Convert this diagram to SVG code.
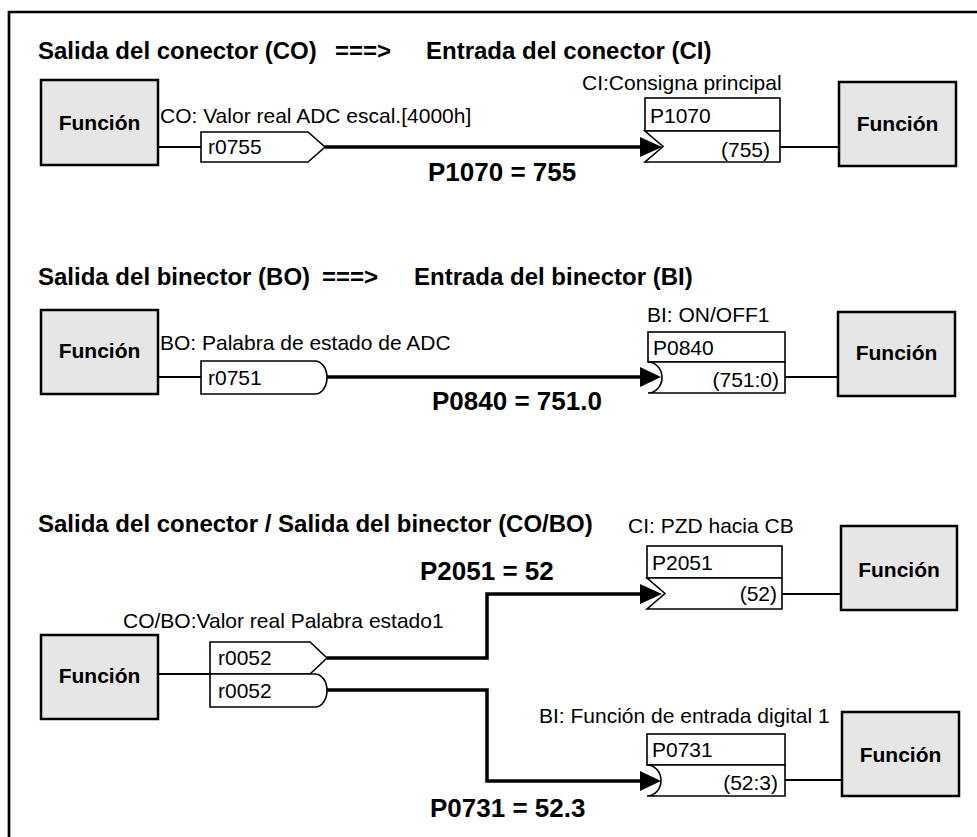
<svg xmlns="http://www.w3.org/2000/svg" width="977" height="837" viewBox="0 0 977 837">
<style>
text{font-family:"Liberation Sans",Arial,sans-serif;fill:#000}
.t{font-size:24px;font-weight:bold}
.eq{font-size:26px;font-weight:bold}
.l{font-size:21px}
.fn{font-size:21px;font-weight:bold;text-anchor:middle}
.r{text-anchor:end}
.fb{fill:#e6e6e6;stroke:#000;stroke-width:2.5}
.bx{fill:#fff;stroke:#000;stroke-width:1.6}
.thin{fill:none;stroke:#000;stroke-width:2}
.thick{fill:none;stroke:#000;stroke-width:3.5}
.ah{fill:#000}
</style>
<rect width="977" height="837" fill="#fff"/>
<path d="M9,837 V12 H977" fill="none" stroke="#000" stroke-width="2.7"/>

<g id="titles">
<text class="t" x="38" y="59">Salida del conector (CO)</text>
<text class="t" x="335" y="59">===&gt;</text>
<text class="t" x="426" y="59">Entrada del conector (CI)</text>
<text class="t" x="38" y="285">Salida del binector (BO)</text>
<text class="t" x="322" y="285">===&gt;</text>
<text class="t" x="414" y="285">Entrada del binector (BI)</text>
<text class="t" x="38" y="532">Salida del conector / Salida del binector (CO/BO)</text>
</g>

<g id="connectors">
<path class="thin" d="M158,147 H201"/>
<path class="thick" d="M325,147 H642"/>
<polygon class="ah" points="640,137 662,147 640,157"/>
<path class="thin" d="M780,147 H839"/>
<text class="eq" x="428" y="181">P1070 = 755</text>

<path class="thin" d="M158,377 H201"/>
<path class="thick" d="M327,377 H642"/>
<polygon class="ah" points="640,367 661,377 640,387"/>
<path class="thin" d="M785,377 H838"/>
<text class="eq" x="432" y="410">P0840 = 751.0</text>

<path class="thin" d="M158,674 H210"/>
<path class="thick" d="M327,658 H487 V594 H642"/>
<polygon class="ah" points="640,584 662,594 640,604"/>
<path class="thick" d="M327,690 H487 V781 H642"/>
<polygon class="ah" points="640,771 661,781 640,791"/>
<path class="thin" d="M782,594 H841"/>
<path class="thin" d="M785,780 H842"/>
<text class="eq" x="420" y="580">P2051 = 52</text>
<text class="eq" x="430" y="817">P0731 = 52.3</text>
</g>

<g id="f1"><rect class="fb" x="41" y="80" width="117" height="85"/><text class="fn" x="99.5" y="130">Función</text></g>
<g id="r0755">
<text class="l" x="160" y="123">CO: Valor real ADC escal.[4000h]</text>
<path class="bx" d="M201,132 H308 L325,147 L308,162 H201 Z"/>
<text class="l" x="208" y="154">r0755</text>
</g>
<g id="p1070">
<text class="l" x="582" y="90">CI:Consigna principal</text>
<rect class="bx" x="645" y="98" width="135" height="33"/>
<path class="bx" d="M645,131 H780 V162 H645 L663,146.5 Z"/>
<text class="l" x="650" y="123">P1070</text>
<text class="l r" x="770" y="157">(755)</text>
</g>
<g id="f2"><rect class="fb" x="839" y="82" width="117" height="84"/><text class="fn" x="897.5" y="131">Función</text></g>

<g id="f3"><rect class="fb" x="41" y="310" width="117" height="84"/><text class="fn" x="99.5" y="358">Función</text></g>
<g id="r0751">
<text class="l" x="160" y="350">BO: Palabra de estado de ADC</text>
<path class="bx" d="M201,361 H315 A12,16.5 0 0 1 315,394 H201 Z"/>
<text class="l" x="208" y="385">r0751</text>
</g>
<g id="p0840">
<text class="l" x="647" y="322">BI: ON/OFF1</text>
<rect class="bx" x="648" y="332" width="137" height="30"/>
<path class="bx" d="M648,362 H785 V393 H648 A14,15.5 0 0 0 648,362 Z"/>
<text class="l" x="653" y="355">P0840</text>
<text class="l r" x="779" y="387">(751:0)</text>
</g>
<g id="f4"><rect class="fb" x="838" y="312" width="117" height="84"/><text class="fn" x="896.5" y="360">Función</text></g>

<g id="f5"><rect class="fb" x="41" y="635" width="117" height="84"/><text class="fn" x="99.5" y="683">Función</text></g>
<g id="r0052">
<text class="l" x="123" y="628">CO/BO:Valor real Palabra estado1</text>
<path class="bx" d="M210,642 H310 L327,658 L310,674 H210 Z"/>
<text class="l" x="218" y="665">r0052</text>
<path class="bx" d="M210,674 H315 A12,16.5 0 0 1 315,707 H210 Z"/>
<text class="l" x="218" y="698">r0052</text>
</g>
<g id="p2051">
<text class="l" x="628" y="533">CI: PZD hacia CB</text>
<rect class="bx" x="647" y="546" width="135" height="32"/>
<path class="bx" d="M647,578 H782 V609 H647 L665,593.5 Z"/>
<text class="l" x="652" y="570">P2051</text>
<text class="l r" x="777" y="601">(52)</text>
</g>
<g id="f6"><rect class="fb" x="841" y="526" width="116" height="84"/><text class="fn" x="899" y="577">Función</text></g>
<g id="p0731">
<text class="l" x="539" y="723">BI: Función de entrada digital 1</text>
<rect class="bx" x="647" y="734" width="138" height="31"/>
<path class="bx" d="M647,765 H785 V796 H647 A14,15.5 0 0 0 647,765 Z"/>
<text class="l" x="652" y="757">P0731</text>
<text class="l r" x="778" y="790">(52:3)</text>
</g>
<g id="f7"><rect class="fb" x="842" y="712" width="117" height="84"/><text class="fn" x="900.5" y="762">Función</text></g>
</svg>
